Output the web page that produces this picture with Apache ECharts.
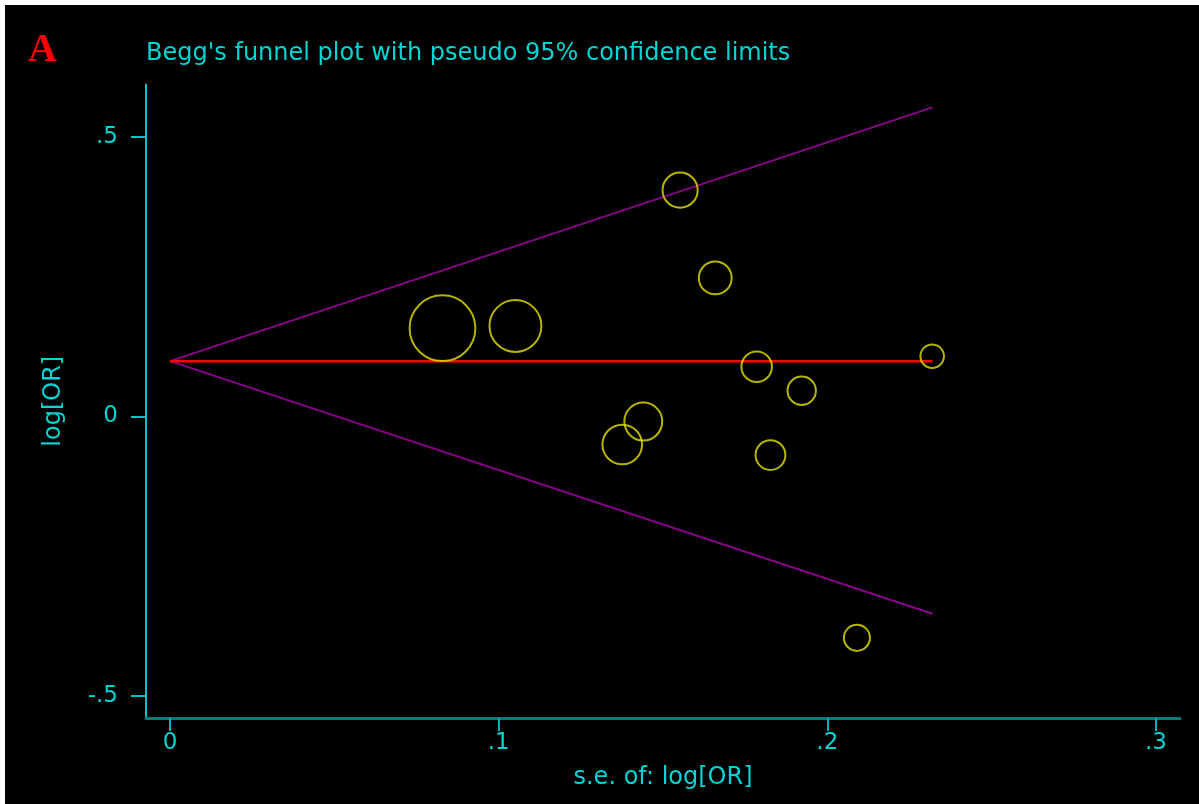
<!DOCTYPE html>
<html>
<head>
<meta charset="utf-8">
<title>Begg's funnel plot</title>
<script src="https://cdn.jsdelivr.net/npm/echarts@6.0.0/dist/echarts.min.js"></script>
<style>
  html, body { margin: 0; padding: 0; background: #fff; }
  #chart { width: 1199px; height: 804px; }
</style>
</head>
<body>
<div id="chart"></div>
<script>
// study estimates: s.e. of log[OR] and log[OR]
const seLogOR = [0.0829, 0.1051, 0.1552, 0.1659, 0.1785, 0.1922, 0.1440, 0.1376, 0.1827, 0.2319, 0.2090];
const logOR = [0.158, 0.162, 0.405, 0.248, 0.089, 0.046, -0.009, -0.050, -0.069, 0.108, -0.396];

// pooled estimate and pseudo 95% limits (end points of each line)
const lineSe = [0, 0.232];
const pooledLine = [0.099, 0.099];
const upperLine = [0.099, 0.553];
const lowerLine = [0.099, -0.353];

const xTicks = [0, 0.1, 0.2, 0.3];
const xTickLabels = ['0', '.1', '.2', '.3'];
const yTicks = [-0.5, 0, 0.5];
const yTickLabels = ['-.5', '0', '.5'];

const CYAN = '#00d4d4';
const FONT = '"DejaVu Sans", sans-serif';

function pickLabel(ticks, labels) {
  return v => labels[ticks.findIndex(t => Math.abs(t - v) < 1e-9)] ?? '';
}
function toPairs(xs, ys) {
  return xs.map((x, i) => [x, ys[i]]);
}

const chart = echarts.init(document.getElementById('chart'));

chart.setOption({
  animation: false,
  backgroundColor: '#000',
  title: [
    {
      text: 'A',
      left: 28,
      top: 31,
      padding: 0,
      textStyle: { color: '#ff0000', fontFamily: '"Liberation Serif", serif', fontWeight: 'bold', fontSize: 40 }
    },
    {
      text: "Begg's funnel plot with pseudo 95% confidence limits",
      left: 146,
      top: 42,
      padding: 0,
      textStyle: { color: CYAN, fontFamily: FONT, fontWeight: 'normal', fontSize: 24 }
    }
  ],
  graphic: [
    { type: 'rect', shape: { x: 0, y: 0, width: 1199, height: 5 }, style: { fill: '#fff' } },
    { type: 'rect', shape: { x: 0, y: 0, width: 5, height: 804 }, style: { fill: '#fff' } }
  ],
  grid: { left: 146, right: 19, top: 84.5, bottom: 86 },
  xAxis: {
    type: 'value',
    min: -0.0073,
    max: 0.3073,
    name: 's.e. of: log[OR]',
    nameLocation: 'middle',
    nameGap: 48,
    nameTextStyle: { color: CYAN, fontFamily: FONT, fontSize: 24 },
    axisLine: { show: true, onZero: false, lineStyle: { color: '#007b7b', width: 3 } },
    axisTick: { show: true, customValues: xTicks, length: 13, lineStyle: { color: '#00b4b4', width: 2 } },
    axisLabel: { customValues: xTicks, formatter: pickLabel(xTicks, xTickLabels), color: CYAN, fontFamily: FONT, fontSize: 23, margin: 14 },
    splitLine: { show: false }
  },
  yAxis: {
    type: 'value',
    min: -0.5394,
    max: 0.594,
    name: 'log[OR]',
    nameLocation: 'middle',
    nameGap: 80,
    nameTextStyle: { color: CYAN, fontFamily: FONT, fontSize: 24 },
    axisLine: { show: true, onZero: false, lineStyle: { color: '#00c4c4', width: 2 } },
    axisTick: { show: true, customValues: yTicks, length: 15, lineStyle: { color: '#00c4c4', width: 2 } },
    axisLabel: { customValues: yTicks, formatter: pickLabel(yTicks, yTickLabels), color: CYAN, fontFamily: FONT, fontSize: 23, margin: 28 },
    splitLine: { show: false }
  },
  series: [
    {
      name: 'upper limit',
      type: 'line',
      data: toPairs(lineSe, upperLine),
      showSymbol: false,
      lineStyle: { color: '#8a008a', width: 2 },
      silent: true
    },
    {
      name: 'lower limit',
      type: 'line',
      data: toPairs(lineSe, lowerLine),
      showSymbol: false,
      lineStyle: { color: '#8a008a', width: 2 },
      silent: true
    },
    {
      name: 'pooled',
      type: 'line',
      data: toPairs(lineSe, pooledLine),
      showSymbol: false,
      lineStyle: { color: '#ff0000', width: 2.5 },
      silent: true
    },
    {
      name: 'studies',
      type: 'scatter',
      data: toPairs(seLogOR, logOR),
      // marker size follows study weight (1 / s.e.)
      symbolSize: v => 5.45 / v[0],
      itemStyle: { color: 'rgba(0,0,0,0)', borderColor: '#e2e200', borderWidth: 2 },
      silent: true,
      z: 3
    }
  ]
});
</script>
</body>
</html>
